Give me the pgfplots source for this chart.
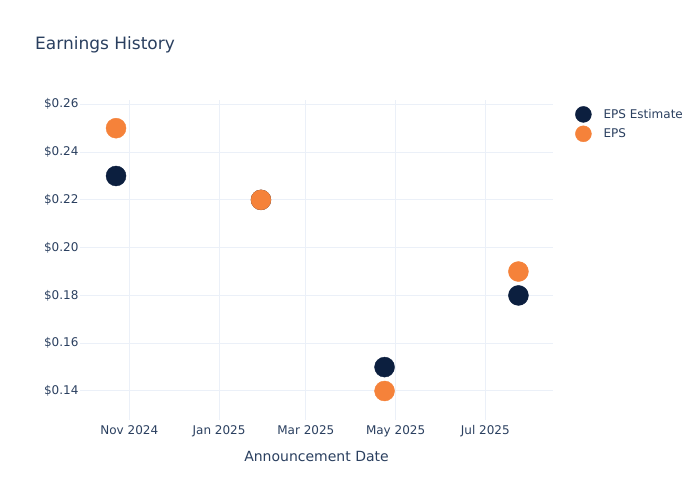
\documentclass[border=0pt]{standalone}
\usepackage{pgfplots}
\pgfplotsset{compat=1.18}
\usepackage{fontspec}
\setmainfont{DejaVu Sans}
\definecolor{navy}{HTML}{0C1F3F}
\definecolor{orng}{HTML}{F5823A}
\definecolor{txt}{HTML}{2A3F5F}
\definecolor{gridc}{HTML}{EBF0F8}
\begin{document}
\begin{tikzpicture}[x=1pt,y=1pt]
\path[use as bounding box] (0,0) rectangle (700,500);
\node[anchor=west, text=txt, font=\fontsize{17}{20}\selectfont, inner sep=0pt] at (35,455) {Earnings History};
\begin{axis}[
  at={(80pt,80pt)}, anchor=south west,
  scale only axis, width=473pt, height=320pt,
  xmin=-33.5, xmax=288, ymin=0.12786, ymax=0.2618,
  axis line style={draw=none}, tick style={draw=none},
  major tick length=0pt,
  grid=major, grid style={color=gridc, line width=1pt},
  xtick={0,61,120,181,242},
  xticklabels={Nov 2024, Jan 2025, Mar 2025, May 2025, Jul 2025},
  ytick={0.14,0.16,0.18,0.20,0.22,0.24,0.26},
  scaled y ticks=false,
  yticklabel={\$\pgfmathprintnumber[fixed,fixed zerofill,precision=2,assume math mode=true]{\tick}},
  ticklabel style={font=\fontsize{12}{14}\selectfont, text=txt},
  xticklabel style={yshift=-2pt},
  yticklabel style={xshift=2pt},
  xlabel={Announcement Date},
  xlabel style={at={(axis description cs:0.5,0)}, anchor=center, yshift=-36pt, font=\fontsize{14}{16}\selectfont, text=txt},
  legend style={at={(axis description cs:1,1)}, anchor=north west, xshift=22pt, yshift=-6pt,
    draw=none, fill=none, inner sep=0pt, row sep=3pt,
    font=\fontsize{12}{14}\selectfont, text=txt,
    nodes={inner sep=0pt, anchor=west},
    /tikz/every odd column/.append style={column sep=12pt}},
  legend cell align=left,
  clip=false,
]
\addplot[only marks, mark=*, mark size=10pt, color=navy, mark options={fill=navy, draw=none},
  legend image code/.code={\fill[navy] (0pt,0pt) circle (8pt);}]
  coordinates {(-9,0.23) (89.5,0.22) (173.5,0.15) (264.5,0.18)};
\addlegendentry{EPS Estimate}
\addplot[only marks, mark=*, mark size=10pt, color=orng, mark options={fill=orng, draw=none},
  legend image code/.code={\fill[orng] (0pt,0pt) circle (8pt);}]
  coordinates {(-9,0.25) (89.5,0.22) (173.5,0.14) (264.5,0.19)};
\addlegendentry{EPS}
\end{axis}
\end{tikzpicture}
\end{document}
